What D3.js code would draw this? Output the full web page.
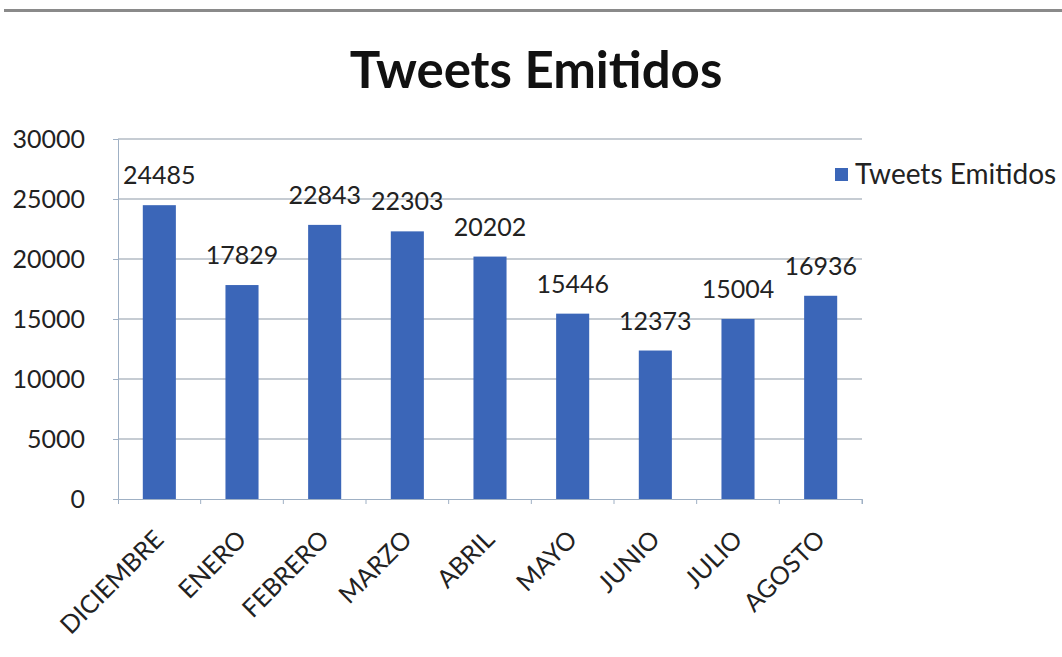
<!DOCTYPE html>
<html><head><meta charset="utf-8">
<script src="https://cdn.jsdelivr.net/npm/d3@7"></script>
<style>body{margin:0;background:#fff}svg{display:block}</style>
</head><body>
<svg id="c" width="1062" height="657"></svg>
<script>
const categories = ["DICIEMBRE","ENERO","FEBRERO","MARZO","ABRIL","MAYO","JUNIO","JULIO","AGOSTO"];
const values = [24485,17829,22843,22303,20202,15446,12373,15004,16936];
const yTicks = [0,5000,10000,15000,20000,25000,30000];
const seriesName = "Tweets Emitidos";
const title = "Tweets Emitidos";

const svg = d3.select("#c");
const font = "Lato, 'Open Sans', sans-serif";
const m = {l:118, r:862, t:139, b:499};
const x = d3.scaleBand().domain(categories).range([m.l, m.r]).paddingInner(0.6).paddingOuter(0.3);
const xb = d3.scaleBand().domain(categories).range([m.l, m.r]);
const y = d3.scaleLinear().domain([0,30000]).range([m.b, m.t]);

// top border
svg.append("rect").attr("x",4).attr("y",9).attr("width",1058).attr("height",3).attr("fill","#8a8a8a");

// title
svg.append("text").attr("x",536).attr("y",88).attr("text-anchor","middle")
  .attr("font-family",font).attr("font-weight","bold").attr("font-size",51).attr("fill","#111").text(title);

// gridlines
svg.append("g").selectAll("line").data(yTicks.filter(d=>d>0)).join("line")
  .attr("x1",m.l).attr("x2",m.r).attr("y1",d=>y(d)).attr("y2",d=>y(d))
  .attr("stroke","#8d9aa8").attr("stroke-width",1.2);

// y axis
const ya = svg.append("g").attr("transform",`translate(${m.l},0)`)
  .call(d3.axisLeft(y).tickValues(yTicks).tickSize(5).tickPadding(28).tickFormat(d3.format("d")));
ya.select(".domain").attr("stroke","#9fb0c4");
ya.selectAll(".tick line").attr("stroke","#9fb0c4");
ya.selectAll("text").attr("font-family",font).attr("font-size",25).attr("fill","#222");

// x axis
const xa = svg.append("g").attr("transform",`translate(0,${m.b})`)
  .call(d3.axisBottom(xb).tickSize(5).tickFormat(""));
xa.select(".domain").attr("stroke","#9fb0c4");
xa.selectAll(".tick line").attr("transform",`translate(${xb.bandwidth()/2},0)`).attr("stroke","#9fb0c4");

// x labels
svg.append("g").selectAll("text").data(categories).join("text")
  .attr("transform",d=>`translate(${xb(d)+xb.bandwidth()/2+6},${m.b+42}) rotate(-45)`)
  .attr("text-anchor","end").attr("font-family",font).attr("font-size",25).attr("fill","#222").text(d=>d);

// bars
svg.append("g").selectAll("rect").data(values).join("rect")
  .attr("x",(d,i)=>x(categories[i])).attr("width",x.bandwidth())
  .attr("y",d=>y(d)).attr("height",d=>m.b-y(d)).attr("fill","#3b66b8");

// data labels
svg.append("g").selectAll("text").data(values).join("text")
  .attr("x",(d,i)=>xb(categories[i])+xb.bandwidth()/2).attr("y",d=>y(d)-21)
  .attr("text-anchor","middle").attr("font-family",font).attr("font-size",25).attr("fill","#222").text(d=>d);

// legend
svg.append("rect").attr("x",835).attr("y",168).attr("width",13).attr("height",13).attr("fill","#3b66b8");
svg.append("text").attr("x",855).attr("y",184).attr("font-family",font).attr("font-size",28).attr("fill","#222").text(seriesName);
</script>
</body></html>
